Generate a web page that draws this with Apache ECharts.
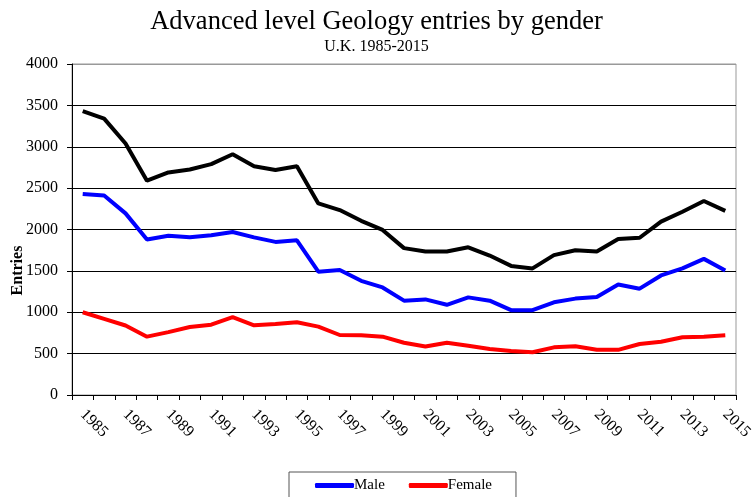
<!DOCTYPE html>
<html>
<head>
<meta charset="utf-8">
<script src="https://cdn.jsdelivr.net/npm/echarts@6/dist/echarts.min.js"></script>
<style>html,body{margin:0;padding:0;background:#fff}#c{width:753px;height:497px}</style>
</head>
<body>
<div id="c"></div>
<script>
const years = ['1985','1986','1987','1988','1989','1990','1991','1992','1993','1994','1995','1996','1997','1998','1999','2000','2001','2002','2003','2004','2005','2006','2007','2008','2009','2010','2011','2012','2013','2014','2015'];
const total = [3430,3340,3040,2590,2690,2725,2790,2910,2765,2720,2765,2315,2235,2105,1995,1775,1735,1735,1785,1685,1560,1530,1690,1750,1735,1885,1900,2095,2215,2345,2225];
const male = [2430,2410,2195,1880,1925,1905,1930,1970,1905,1850,1870,1490,1510,1380,1300,1140,1155,1090,1180,1140,1025,1025,1120,1165,1185,1335,1285,1445,1530,1645,1505];
const female = [1000,920,840,705,760,822,850,940,842,858,880,826,725,721,705,632,585,632,596,556,532,516,576,588,546,546,616,644,697,705,721];
const yTicks = [0,500,1000,1500,2000,2500,3000,3500,4000];

const serif = '"Liberation Serif", "Times New Roman", serif';
const chart = echarts.init(document.getElementById('c'), null, {renderer:'canvas'});
chart.setOption({
  animation: false,
  backgroundColor: '#fff',
  title: {
    text: 'Advanced level Geology entries by gender',
    subtext: 'U.K. 1985-2015',
    left: 'center', top: 4,
    itemGap: 3,
    textStyle: {fontFamily: serif, fontSize: 26.5, fontWeight: 'normal', color: '#000'},
    subtextStyle: {fontFamily: serif, fontSize: 16, color: '#000'}
  },
  legend: {
    data: ['Male','Female'],
    left: 289, top: 472,
    padding: [6, 24, 30, 26],
    borderColor: '#555', borderWidth: 1,
    itemWidth: 39, itemHeight: 5, itemGap: 24,
    icon: 'roundRect',
    textStyle: {fontFamily: serif, fontSize: 15, color: '#000', padding: [0,0,0,-5]}
  },
  grid: {left: 72, right: 17, top: 64, bottom: 102, show: true, borderColor: '#999', borderWidth: 1, outerBoundsMode: 'none', containLabel: false},
  xAxis: {
    type: 'category', data: years, boundaryGap: true,
    axisLine: {lineStyle: {color: '#000', width: 1}},
    axisTick: {show: true, interval: 0, length: 5, lineStyle: {color: '#000'}},
    axisLabel: {interval: 1, rotate: -45, margin: 17, fontFamily: serif, fontSize: 16, color: '#000'},
    splitLine: {show: false}
  },
  yAxis: {
    type: 'value', min: yTicks[0], max: yTicks[yTicks.length-1], interval: 500,
    name: 'Entries', nameLocation: 'middle', nameGap: 46, nameRotate: 90, nameMoveOverlap: false,
    nameTextStyle: {fontFamily: serif, fontSize: 16, fontWeight: 'bold', color: '#000', padding: [0, 82, 0, 0]},
    axisLine: {show: true, lineStyle: {color: '#000', width: 1}},
    axisTick: {show: true, length: 5, lineStyle: {color: '#000'}},
    axisLabel: {fontFamily: serif, fontSize: 16, color: '#000', margin: 14, formatter: v => String(v)},
    splitLine: {show: true, lineStyle: {color: ['#000','#000','#000','#000','#000','#000','#000','#000','#999'], width: 1}}
  },
  series: [
    {name: 'Total', type: 'line', data: total, showSymbol: false, symbol: 'none', lineStyle: {color: '#000', width: 4}, itemStyle: {color: '#000'}},
    {name: 'Male', type: 'line', data: male, showSymbol: false, symbol: 'none', lineStyle: {color: '#0000FF', width: 4}, itemStyle: {color: '#0000FF'}},
    {name: 'Female', type: 'line', data: female, showSymbol: false, symbol: 'none', lineStyle: {color: '#FF0000', width: 4}, itemStyle: {color: '#FF0000'}}
  ]
});
</script>
</body>
</html>
